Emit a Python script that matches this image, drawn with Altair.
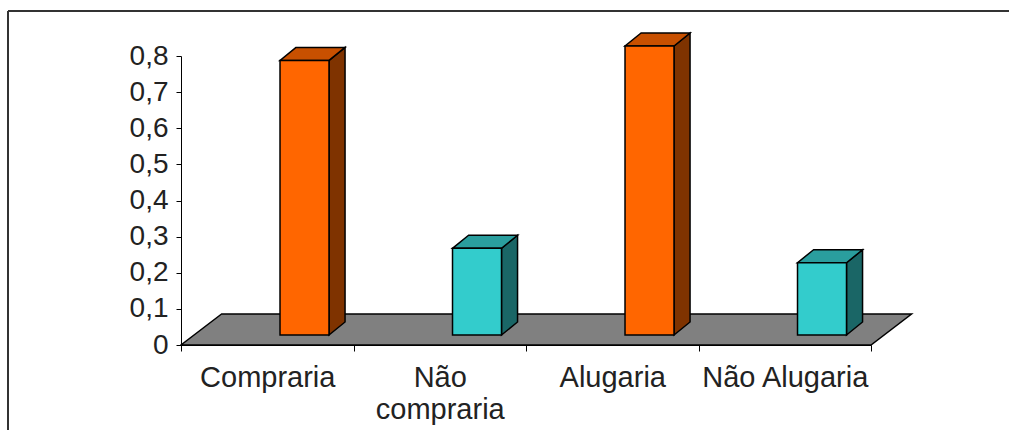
import json
import altair as alt
import pandas as pd

# ---- data ----
categories = ["Compraria", "Não compraria", "Alugaria", "Não Alugaria"]
label_lines = [["Compraria"], ["Não", "compraria"], ["Alugaria"], ["Não Alugaria"]]
values = [0.76, 0.24, 0.80, 0.20]
front_colors = ["#FF6600", "#33CCCC", "#FF6600", "#33CCCC"]
top_colors = ["#C85000", "#2A9E9E", "#C85000", "#2A9E9E"]
side_colors = ["#7F3300", "#1A6666", "#7F3300", "#1A6666"]
y_ticks = [0, 0.1, 0.2, 0.3, 0.4, 0.5, 0.6, 0.7, 0.8]
x_ticks = [0, 1, 2, 3, 4]

# ---- layout / pseudo-3D style constants (in axis units) ----
W, H = 690, 289
PAD_L, PAD_T, PAD_R, PAD_B = 181, 56, 138, 85
N = len(categories)
BAR_L, BAR_W = 0.574, 0.284       # bar front face within a category slot
BASE = 0.0277                      # bar front bottom above the floor front edge
BDX, BDY = 0.093, 0.036            # bar depth offset
FLOOR_DX, FLOOR_DY = 0.235, 0.0858 # floor depth offset
FONT = "Liberation Sans"

rows_front, rows_side, rows_top = [], [], []
for i, (c, v) in enumerate(zip(categories, values)):
    xl, xr = i + BAR_L, i + BAR_L + BAR_W
    yb, yt = BASE, BASE + v
    rows_front.append(dict(cat=c, x=xl, x2=xr, y=yb, y2=yt, col=front_colors[i]))
    for k in (0, 1):
        rows_side.append(dict(cat=c, x=xr + k * BDX, y=yt + k * BDY, y2=yb + k * BDY,
                              col=side_colors[i]))
        rows_top.append(dict(cat=c, y=yt + k * BDY, x=xl + k * BDX, x2=xr + k * BDX,
                             col=top_colors[i]))
front = pd.DataFrame(rows_front)
side = pd.DataFrame(rows_side)
top = pd.DataFrame(rows_top)
floor = pd.DataFrame(dict(y=[0, FLOOR_DY], x=[0, FLOOR_DX], x2=[N, N + FLOOR_DX]))

xscale = alt.Scale(domain=[0, N], nice=False, zero=False)
yscale = alt.Scale(domain=[0, 0.8], nice=False, zero=False)

lbl_js = json.dumps(label_lines, ensure_ascii=False)
x_axis = alt.Axis(
    values=x_ticks, title=None, grid=False,
    labelExpr=f"datum.value < {N} ? {lbl_js}[datum.value] : ''",
    labelOffset=W / N / 2, labelFlush=False, labelOverlap=False, labelBound=False,
    labelFont=FONT, labelFontSize=29, labelColor="#222", labelLineHeight=32,
    labelPadding=12, tickSize=6, tickColor="#000", domainColor="#000",
)
y_axis = alt.Axis(
    values=y_ticks, title=None, grid=False,
    labelExpr="datum.value == 0 ? '0' : replace(format(datum.value, '.1f'), '.', ',')",
    labelFont=FONT, labelFontSize=28, labelColor="#222", labelPadding=8,
    tickSize=5, tickColor="#000", domainColor="#000", labelFlush=False,
)

X = alt.X("x:Q", scale=xscale, axis=x_axis)
Y = alt.Y("y:Q", scale=yscale, axis=y_axis)

floor_layer = alt.Chart(floor).mark_area(
    orient="horizontal", color="#808080", stroke="#000", strokeWidth=1.5
).encode(y=Y, x=X, x2="x2:Q")

side_layer = alt.Chart(side).mark_area(stroke="#000", strokeWidth=1.5).encode(
    x=X, y=Y, y2="y2:Q", detail="cat:N", fill=alt.Fill("col:N", scale=None),
)

top_layer = alt.Chart(top).mark_area(orient="horizontal", stroke="#000", strokeWidth=1.5).encode(
    y=Y, x=X, x2="x2:Q", detail="cat:N", fill=alt.Fill("col:N", scale=None),
)

front_layer = alt.Chart(front).mark_rect(stroke="#000", strokeWidth=1.5).encode(
    x=X, x2="x2:Q", y=Y, y2="y2:Q", fill=alt.Fill("col:N", scale=None),
)

# outer frame of the original picture: only top and left edges are visible
frame_src = pd.DataFrame({"a": [0]})
frame_top = alt.Chart(frame_src).mark_rule(color="#333", strokeWidth=2).encode(
    x=alt.value(-173), x2=alt.value(W + PAD_R), y=alt.value(-45)
)
frame_left = alt.Chart(frame_src).mark_rule(color="#333", strokeWidth=2).encode(
    x=alt.value(-173), y=alt.value(-45), y2=alt.value(H + PAD_B)
)

chart = alt.layer(
    floor_layer, side_layer, top_layer, front_layer, frame_top, frame_left
).properties(
    width=W, height=H,
    background="white",
    autosize=alt.AutoSizeParams(type="none"),
    padding={"left": PAD_L, "top": PAD_T, "right": PAD_R, "bottom": PAD_B},
).configure_view(strokeWidth=0, stroke=None)

chart.save("out.html", embed_options={"renderer": "svg", "actions": False})
